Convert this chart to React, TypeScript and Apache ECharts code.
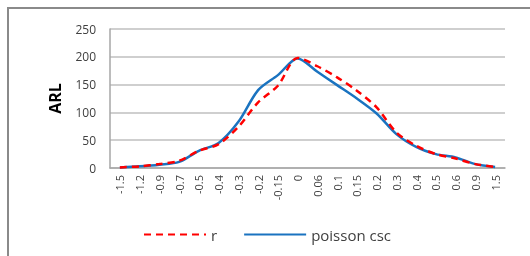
import React, { useEffect, useRef } from "react";
import * as echarts from "echarts";

const categories = ["-1.5", "-1.2", "-0.9", "-0.7", "-0.5", "-0.4", "-0.3", "-0.2", "-0.15", "0", "0.06", "0.1", "0.15", "0.2", "0.3", "0.4", "0.5", "0.6", "0.9", "1.5"];
const rValues = [1, 3, 7, 13, 31, 43, 74, 118, 148, 198, 183, 163, 139, 109, 64, 40, 25, 17, 7, 2];
const poissonValues = [1, 3, 6, 11, 31, 45, 83, 140, 167, 197, 173, 149, 125, 98, 61, 38, 25, 19, 7, 2];
const yTicks = { min: 0, max: 250, interval: 50 };

export default function App() {
  const ref = useRef<HTMLDivElement>(null);
  useEffect(() => {
    if (!ref.current) return;
    const chart = echarts.init(ref.current, null, { renderer: "svg" });
    const font = "'Open Sans', 'Liberation Sans', sans-serif";
    chart.setOption({
      animation: false,
      textStyle: { fontFamily: font },
      graphic: [
        {
          type: "polyline",
          shape: { points: [[8, 260], [8, 8], [530, 8]] },
          style: { stroke: "#8a8a8a", lineWidth: 2, fill: "none" },
          silent: true,
        },
      ],
      grid: { left: 110, right: 25, top: 29, bottom: 88 },
      legend: {
        left: 138,
        top: 222,
        itemWidth: 62,
        itemHeight: 14,
        itemGap: 26,
        itemStyle: { opacity: 0, borderWidth: 0 },
        textStyle: { color: "#404040", fontSize: 15, fontFamily: font },
        data: ["r", "poisson csc"],
      },
      xAxis: {
        type: "category",
        data: categories,
        boundaryGap: true,
        axisLine: { show: true, lineStyle: { color: "#a6a6a6", width: 1.5 } },
        axisTick: { show: false },
        axisLabel: { rotate: 90, fontSize: 11, color: "#404040", margin: 7, interval: 0, fontFamily: font },
      },
      yAxis: {
        type: "value",
        min: yTicks.min,
        max: yTicks.max,
        interval: yTicks.interval,
        name: "ARL",
        nameLocation: "middle",
        nameRotate: 90,
        nameGap: 47,
        nameTextStyle: { fontSize: 16, fontWeight: "bold", color: "#000", fontFamily: font },
        axisLine: { show: true, lineStyle: { color: "#a6a6a6", width: 1.5 } },
        axisTick: { show: false },
        axisLabel: { fontSize: 12, color: "#404040", margin: 14, fontFamily: font },
        splitLine: { show: true, lineStyle: { color: "#bfbfbf", width: 1.5 } },
      },
      series: [
        {
          name: "r",
          type: "line",
          data: rValues,
          smooth: 0.3,
          symbol: "none",
          lineStyle: { color: "#ff0000", width: 2.5, type: [7, 5] },
          itemStyle: { color: "#ff0000" },
          z: 3,
        },
        {
          name: "poisson csc",
          type: "line",
          data: poissonValues,
          smooth: 0.3,
          symbol: "none",
          lineStyle: { color: "#1a73c0", width: 2.5 },
          itemStyle: { color: "#1a73c0" },
          z: 2,
        },
      ],
    });
    return () => chart.dispose();
  }, []);
  return <div ref={ref} style={{ position: "fixed", left: 0, top: 0, width: 530, height: 256 }} />;
}
